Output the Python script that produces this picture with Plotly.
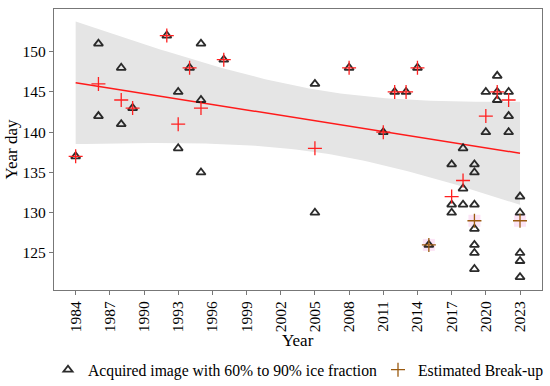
import numpy as np
import plotly.graph_objects as go

# Acquired images (60%-90% ice fraction)
img_years = [1984, 1986, 1986, 1988, 1988, 1989, 1992, 1993, 1993, 1994, 1995, 1995, 1995, 1997,
             2005, 2005, 2008, 2011, 2012, 2013, 2014, 2015,
             2017, 2017, 2017, 2018, 2018, 2018,
             2019, 2019, 2019, 2019, 2019, 2019, 2019,
             2020, 2020, 2021, 2021, 2021, 2022, 2022, 2022,
             2023, 2023, 2023, 2023, 2023]
img_days = [137, 151, 142, 148, 141, 143, 152, 145, 138, 148, 151, 144, 135, 149,
            146, 130, 148, 140, 145, 145, 148, 126,
            136, 131, 130, 138, 133, 131,
            136, 135, 131, 128, 126, 125, 123,
            145, 140, 147, 145, 144, 145, 142, 140,
            132, 130, 125, 124, 122]

# Estimated break-up
brk_years = [1984, 1986, 1988, 1989, 1992, 1993, 1994, 1995, 1997, 2005, 2008, 2011, 2012, 2013,
             2014, 2015, 2017, 2018, 2019, 2020, 2021, 2022, 2023]
brk_days = [137, 146, 144, 143, 152, 141, 148, 143, 149, 138, 148, 140, 145, 145,
            148, 126, 132, 134, 129, 142, 145, 144, 129]
brk_brown = [2015, 2019, 2023]

x_ticks = list(range(1984, 2024, 3))
y_ticks = [125, 130, 135, 140, 145, 150]

# Linear fit with 99% confidence band
xb = np.array(brk_years, float)
yb = np.array(brk_days, float)
n = len(xb)
slope, icpt = np.polyfit(xb, yb, 1)
resid = yb - (slope * xb + icpt)
s = np.sqrt(np.sum(resid ** 2) / (n - 2))
sxx = np.sum((xb - xb.mean()) ** 2)
xs = np.linspace(1984, 2023, 100)
fit = slope * xs + icpt
tcrit = 2.831
half = tcrit * s * np.sqrt(1 / n + (xs - xb.mean()) ** 2 / sxx)

red_x = [x for x in brk_years if x not in brk_brown]
red_y = [y for x, y in zip(brk_years, brk_days) if x not in brk_brown]
br_x = [x for x in brk_years if x in brk_brown]
br_y = [y for x, y in zip(brk_years, brk_days) if x in brk_brown]

fig = go.Figure()
fig.add_trace(go.Scatter(x=np.concatenate([xs, xs[::-1]]), y=np.concatenate([fit + half, (fit - half)[::-1]]),
                         fill="toself", fillcolor="rgba(229,229,229,1)", line=dict(width=0),
                         mode="lines", showlegend=False, hoverinfo="skip"))
fig.add_trace(go.Scatter(x=xs, y=fit, mode="lines", line=dict(color="#ff1a1a", width=1.5),
                         showlegend=False))
fig.add_trace(go.Scatter(x=br_x, y=br_y, mode="markers",
                         marker=dict(symbol="square", size=12, color="rgba(252,228,246,1)"),
                         showlegend=False, hoverinfo="skip"))
fig.add_trace(go.Scatter(x=img_years, y=img_days, mode="markers", name="Acquired image with 60% to 90% ice fraction",
                         legend="legend",
                         marker=dict(symbol="triangle-up-open", size=8, color="rgba(20,20,20,0.9)",
                                     line=dict(width=1.8))))
fig.add_trace(go.Scatter(x=red_x, y=red_y, mode="markers", showlegend=False,
                         marker=dict(symbol="cross-thin-open", size=10, color="#ff2020",
                                     line=dict(width=1.3, color="#ff2020"))))
fig.add_trace(go.Scatter(x=br_x, y=br_y, mode="markers", name="Estimated Break-up",
                         legend="legend2",
                         marker=dict(symbol="cross-thin-open", size=10, color="#9a5a10",
                                     line=dict(width=1.3, color="#9a5a10"))))

font = "Liberation Serif, Times New Roman, serif"
fig.update_layout(
    width=550, height=386,
    margin=dict(l=54, r=8, t=9, b=96, autoexpand=False),
    paper_bgcolor="white", plot_bgcolor="white",
    font=dict(family=font, size=15, color="black"),
    legend=dict(orientation="h", xref="container", yref="container", x=48 / 550, xanchor="left",
                y=(386 - 370) / 386, yanchor="middle", font=dict(size=15.7), itemwidth=30,
                bgcolor="rgba(0,0,0,0)"),
    legend2=dict(orientation="h", xref="container", yref="container", x=378 / 550, xanchor="left",
                 y=(386 - 370) / 386, yanchor="middle", font=dict(size=15.7), itemwidth=30,
                 bgcolor="rgba(0,0,0,0)"),
    xaxis=dict(range=[1982.1, 2024.93], tickvals=x_ticks, tickangle=-90, automargin=False,
               tickfont=dict(size=15.5),
               showline=True, linecolor="#777", linewidth=1.2, mirror=True,
               ticks="outside", ticklen=4, tickcolor="#777", showgrid=False, zeroline=False),
    yaxis=dict(range=[120.4, 155.3], tickvals=y_ticks, automargin=False,
               tickfont=dict(size=15.5),
               showline=True, linecolor="#777", linewidth=1.2, mirror=True,
               ticks="outside", ticklen=4, tickcolor="#777", showgrid=False, zeroline=False,
               title=dict(text="Year day", font=dict(size=17), standoff=0)),
    annotations=[dict(text="Year", xref="paper", yref="paper", x=0.5, y=(290 - 340) / 281,
                      xanchor="center", yanchor="middle", showarrow=False, font=dict(size=17))],
)
fig.write_html("out.html", config={"displayModeBar": False},
               post_script="document.body.style.margin='0';document.body.style.overflow='hidden';")
